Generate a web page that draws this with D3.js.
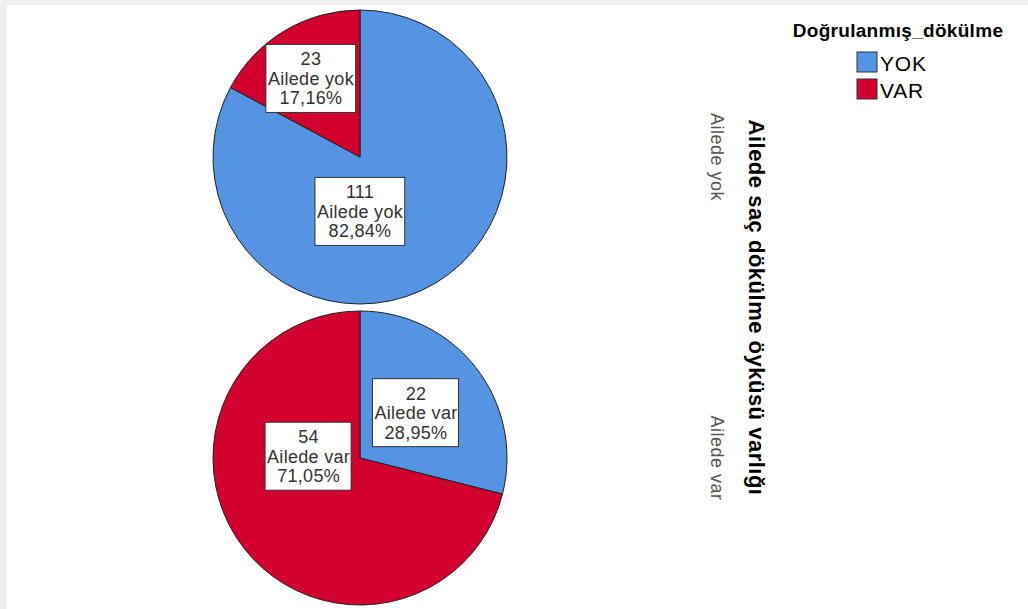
<!DOCTYPE html>
<html>
<head>
<meta charset="utf-8">
<script src="https://cdn.jsdelivr.net/npm/d3@7"></script>
<style>
  html, body { margin: 0; padding: 0; background: #fff; }
  svg { display: block; }
  text { font-family: Arial, "Liberation Sans", sans-serif; }
</style>
</head>
<body>
<svg id="chart" width="1028" height="609"></svg>
<script>
// Panels: family history of hair loss
const panels = ["Ailede yok", "Ailede var"];
// Legend categories: confirmed hair loss
const categories = ["YOK", "VAR"];
// Counts per panel, in category order (YOK, VAR)
const countsAiledeYok = [111, 23];
const countsAiledeVar = [22, 54];
const seriesCounts = [countsAiledeYok, countsAiledeVar];

const colors = ["#5494e3", "#d3002f"];
const legendTitle = "Doğrulanmış_dökülme";
const axisTitle = "Ailede saç dökülme öyküsü varlığı";

// Label placement per panel and slice: polar angle (degrees, clockwise from 12 o'clock)
// and distance as a fraction of the radius
const labelPlacement = [
  [{ angle: 180, dist: 0.37 }, { angle: 328, dist: 0.63 }],
  [{ angle: 51, dist: 0.49 }, { angle: 272, dist: 0.35 }]
];

const svg = d3.select("#chart");

// frame edges of the output viewer
svg.append("rect").attr("x", 0).attr("y", 0).attr("width", 1028).attr("height", 5).attr("fill", "#efefef");
svg.append("rect").attr("x", 0).attr("y", 0).attr("width", 7).attr("height", 609).attr("fill", "#efefef");

const radius = 147;
const cx = 360;
const panelY = d3.scalePoint().domain(panels).range([157, 458]);

const pie = d3.pie().sort(null).value(d => d.value);
const arc = d3.arc().innerRadius(0).outerRadius(radius);
const fmtPct = v => d3.format(".2f")(v).replace(".", ",") + "%";

panels.forEach((panel, pi) => {
  const values = seriesCounts[pi];
  const total = d3.sum(values);
  const data = categories.map((c, i) => ({ cat: c, value: values[i], idx: i }));
  const g = svg.append("g").attr("transform", `translate(${cx},${panelY(panel)})`);

  g.selectAll("path.slice")
    .data(pie(data))
    .join("path")
    .attr("class", "slice")
    .attr("d", arc)
    .attr("fill", d => colors[d.data.idx])
    .attr("stroke", "#222")
    .attr("stroke-width", 1);

  pie(data).forEach((d, si) => {
    const p = labelPlacement[pi][si];
    const a = p.angle * Math.PI / 180;
    const lx = Math.sin(a) * p.dist * radius;
    const ly = -Math.cos(a) * p.dist * radius;
    const lines = [String(d.data.value), panel, fmtPct(d.data.value / total * 100)];
    const lg = g.append("g").attr("transform", `translate(${lx},${ly})`);
    const txt = lg.append("text")
      .attr("text-anchor", "middle")
      .attr("font-size", 18)
      .attr("letter-spacing", 0.3)
      .attr("fill", "#333");
    lines.forEach((t, k) => {
      txt.append("tspan").attr("x", 0).attr("y", (k - 1) * 19.5 + 6.5).text(t);
    });
    const bb = txt.node().getBBox();
    lg.insert("rect", "text")
      .attr("x", bb.x - 2)
      .attr("y", -34)
      .attr("width", bb.width + 3)
      .attr("height", 68)
      .attr("fill", "#fff")
      .attr("stroke", "#333")
      .attr("stroke-width", 1);
  });

  // panel label on the right, rotated
  svg.append("text")
    .attr("transform", `translate(711,${panelY(panel)}) rotate(90)`)
    .attr("text-anchor", "middle")
    .attr("font-size", 18)
    .attr("letter-spacing", 0.5)
    .attr("fill", "#555")
    .text(panel);
});

// panel axis title
svg.append("text")
  .attr("transform", `translate(749,${(panelY(panels[0]) + panelY(panels[1])) / 2}) rotate(90)`)
  .attr("text-anchor", "middle")
  .attr("font-size", 22)
  .attr("letter-spacing", 0.5)
  .attr("font-weight", "bold")
  .attr("fill", "#000")
  .text(axisTitle);

// legend
svg.append("text")
  .attr("x", 898).attr("y", 37)
  .attr("text-anchor", "middle")
  .attr("font-size", 19)
  .attr("letter-spacing", 0.3)
  .attr("font-weight", "bold")
  .attr("fill", "#000")
  .text(legendTitle);

const legendY = d3.scaleBand().domain(categories).range([52, 106]).paddingInner(0);
const lgItems = svg.selectAll("g.legend")
  .data(categories)
  .join("g")
  .attr("class", "legend")
  .attr("transform", c => `translate(857,${legendY(c)})`);
lgItems.append("rect")
  .attr("width", 20).attr("height", 20)
  .attr("fill", (c, i) => colors[i])
  .attr("stroke", "#333").attr("stroke-width", 1);
lgItems.append("text")
  .attr("x", 23).attr("y", 19)
  .attr("font-size", 21)
  .attr("letter-spacing", 0.8)
  .attr("fill", "#000")
  .text(c => c);
</script>
</body>
</html>
